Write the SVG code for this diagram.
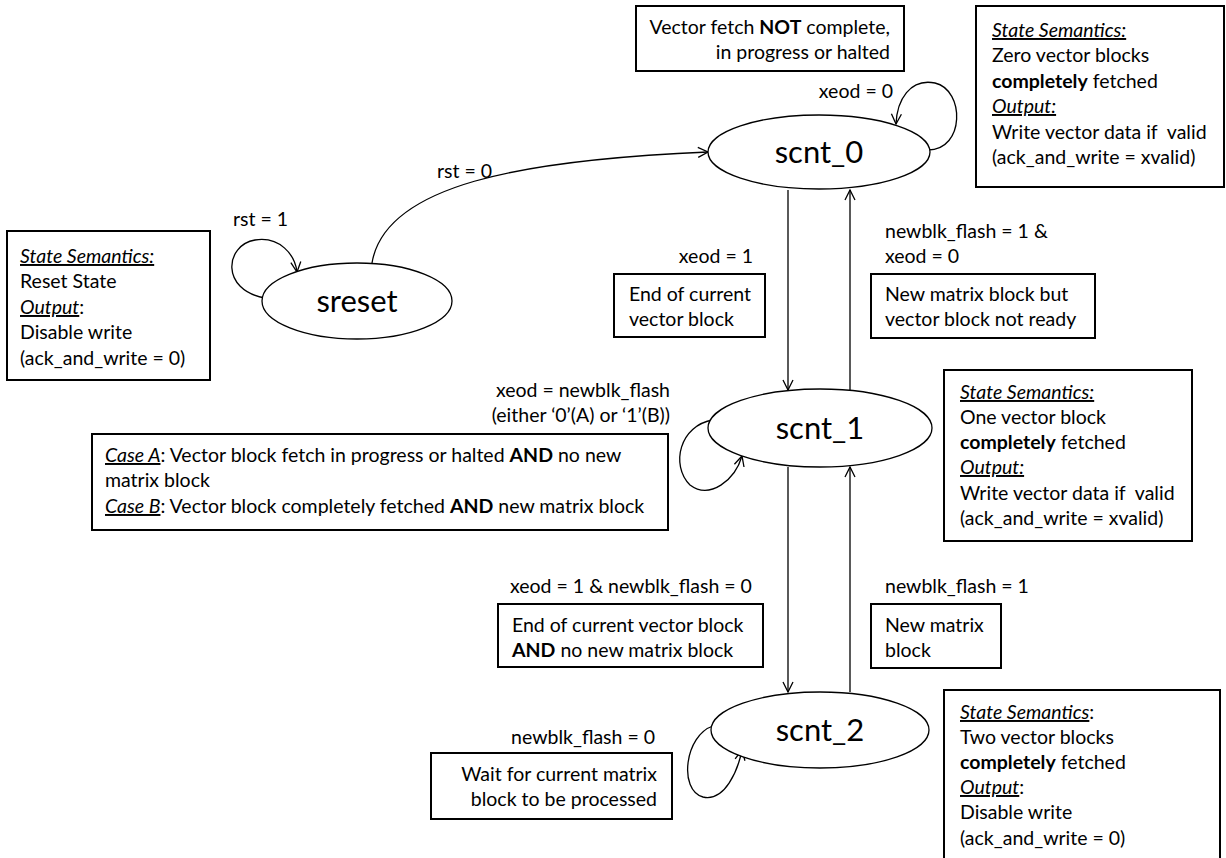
<svg xmlns="http://www.w3.org/2000/svg" width="1226" height="858" viewBox="0 0 1226 858">
  <style>
    text { font-family: Lato, "Open Sans", "Liberation Sans", sans-serif; font-size: 19.5px; fill: #000; }
    .state { font-size: 31px; text-anchor: middle; }
    .end { text-anchor: end; }
    .box { fill: #fff; stroke: #000; stroke-width: 2; }
    .ell { fill: #fff; stroke: #000; stroke-width: 1.3; }
    .edge { fill: none; stroke: #000; stroke-width: 1.3; marker-end: url(#arr); }
    .hd { font-style: italic; text-decoration: underline; }
    .b { font-weight: bold; }
  </style>
  <defs>
    <marker id="arr" viewBox="0 0 12 12" refX="11" refY="6" markerWidth="12" markerHeight="12" markerUnits="userSpaceOnUse" orient="auto">
      <path d="M1,1 L11,6 L1,11" fill="none" stroke="#000" stroke-width="1.3"/>
    </marker>
  </defs>
  <rect width="1226" height="858" fill="#fff"/>

  <!-- transitions -->
  <g id="connectors">
    <path class="edge" d="M372,263 C385,185 520,160 708,152"/>
    <path class="edge" d="M265,298 C220,290 225,245 255,240 C280,236 295,255 297,272"/>
    <path class="edge" d="M928,150 C965,150 965,90 935,83 C910,78 897,100 896,124"/>
    <path class="edge" d="M788,190 L788,390"/>
    <path class="edge" d="M850,391 L850,190"/>
    <path class="edge" d="M713,420 C680,425 670,465 690,485 C710,500 735,480 742,456"/>
    <path class="edge" d="M788,467 L788,692"/>
    <path class="edge" d="M850,692 L850,467"/>
    <path class="edge" d="M713,726 C685,735 678,790 703,797 C725,802 738,770 742,750"/>
  </g>

  <!-- transition labels -->
  <g id="labels">
    <text x="437" y="178">rst = 0</text>
    <text x="233" y="226">rst = 1</text>
    <text class="end" x="893" y="98">xeod = 0</text>
    <text class="end" x="753" y="263">xeod = 1</text>
    <text x="885" y="238">newblk_flash = 1 &amp;</text>
    <text x="885" y="263">xeod = 0</text>
    <text class="end" x="670" y="397">xeod = newblk_flash</text>
    <text class="end" x="670" y="422">(either ‘0’(A) or ‘1’(B))</text>
    <text x="510" y="593">xeod = 1 &amp; newblk_flash = 0</text>
    <text x="885" y="593">newblk_flash = 1</text>
    <text class="end" x="655" y="744">newblk_flash = 0</text>
  </g>

  <!-- states -->
  <g id="sreset">
    <ellipse class="ell" cx="357" cy="301" rx="95" ry="38"/>
    <text class="state" x="357" y="312">sreset</text>
  </g>
  <g id="scnt_0">
    <ellipse class="ell" cx="819" cy="152" rx="111" ry="37"/>
    <text class="state" x="819" y="163">scnt_0</text>
  </g>
  <g id="scnt_1">
    <ellipse class="ell" cx="820" cy="428" rx="112" ry="39"/>
    <text class="state" x="820" y="439">scnt_1</text>
  </g>
  <g id="scnt_2">
    <ellipse class="ell" cx="820" cy="730" rx="109" ry="38"/>
    <text class="state" x="820" y="741">scnt_2</text>
  </g>

  <!-- annotation boxes -->
  <g id="note_fetch">
    <rect class="box" x="636" y="6" width="268" height="65"/>
    <text class="end" x="890" y="34">Vector fetch <tspan class="b">NOT</tspan> complete,</text>
    <text class="end" x="890" y="59">in progress or halted</text>
  </g>
  <g id="sem_scnt_0">
    <rect class="box" x="976" y="6" width="248" height="181"/>
    <text x="992" y="37"><tspan class="hd">State Semantics:</tspan></text>
    <text x="992" y="62">Zero vector blocks</text>
    <text x="992" y="88"><tspan class="b">completely</tspan> fetched</text>
    <text x="992" y="113"><tspan class="hd">Output:</tspan></text>
    <text x="992" y="139">Write vector data if&#160; valid</text>
    <text x="992" y="164">(ack_and_write = xvalid)</text>
  </g>
  <g id="sem_sreset">
    <rect class="box" x="7" y="231" width="203" height="149"/>
    <text x="20" y="263"><tspan class="hd">State Semantics:</tspan></text>
    <text x="20" y="288">Reset State</text>
    <text x="20" y="314"><tspan class="hd">Output</tspan>:</text>
    <text x="20" y="339">Disable write</text>
    <text x="20" y="365">(ack_and_write = 0)</text>
  </g>
  <g id="note_eob">
    <rect class="box" x="614" y="274" width="151" height="63"/>
    <text x="629" y="301">End of current</text>
    <text x="629" y="326">vector block</text>
  </g>
  <g id="note_newblk">
    <rect class="box" x="871" y="274" width="224" height="64"/>
    <text x="885" y="301">New matrix block but</text>
    <text x="885" y="326">vector block not ready</text>
  </g>
  <g id="note_cases">
    <rect class="box" x="92" y="434" width="576" height="96"/>
    <text x="105" y="462"><tspan class="hd">Case A</tspan>: Vector block fetch in progress or halted <tspan class="b">AND</tspan> no new</text>
    <text x="105" y="487">matrix block</text>
    <text x="105" y="513"><tspan class="hd">Case B</tspan>: Vector block completely fetched <tspan class="b">AND</tspan> new matrix block</text>
  </g>
  <g id="sem_scnt_1">
    <rect class="box" x="944" y="370" width="248" height="171"/>
    <text x="960" y="399"><tspan class="hd">State Semantics:</tspan></text>
    <text x="960" y="424">One vector block</text>
    <text x="960" y="449"><tspan class="b">completely</tspan> fetched</text>
    <text x="960" y="474"><tspan class="hd">Output:</tspan></text>
    <text x="960" y="500">Write vector data if&#160; valid</text>
    <text x="960" y="525">(ack_and_write = xvalid)</text>
  </g>
  <g id="note_eob2">
    <rect class="box" x="498" y="604" width="265" height="63"/>
    <text x="512" y="632">End of current vector block</text>
    <text x="512" y="657"><tspan class="b">AND</tspan> no new matrix block</text>
  </g>
  <g id="note_newmatrix">
    <rect class="box" x="871" y="604" width="130" height="64"/>
    <text x="885" y="632">New matrix</text>
    <text x="885" y="657">block</text>
  </g>
  <g id="note_wait">
    <rect class="box" x="431" y="753" width="241" height="66"/>
    <text class="end" x="657" y="781">Wait for current matrix</text>
    <text class="end" x="657" y="806">block to be processed</text>
  </g>
  <g id="sem_scnt_2">
    <rect class="box" x="944" y="690" width="276" height="175"/>
    <text x="960" y="719"><tspan class="hd">State Semantics</tspan>:</text>
    <text x="960" y="744">Two vector blocks</text>
    <text x="960" y="769"><tspan class="b">completely</tspan> fetched</text>
    <text x="960" y="794"><tspan class="hd">Output</tspan>:</text>
    <text x="960" y="819">Disable write</text>
    <text x="960" y="845">(ack_and_write = 0)</text>
  </g>
</svg>
